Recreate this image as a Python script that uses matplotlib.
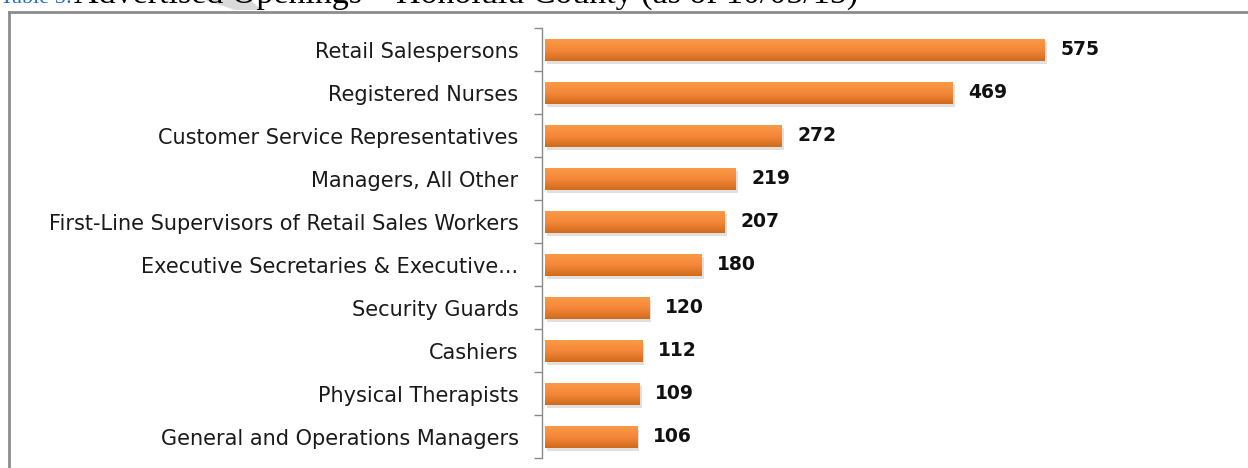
import matplotlib.pyplot as plt
import matplotlib.patheffects as pe
import numpy as np
from matplotlib.colors import LinearSegmentedColormap
from matplotlib.lines import Line2D
from matplotlib.patches import Polygon

occupations = [
    "Retail Salespersons",
    "Registered Nurses",
    "Customer Service Representatives",
    "Managers, All Other",
    "First-Line Supervisors of Retail Sales Workers",
    "Executive Secretaries & Executive...",
    "Security Guards",
    "Cashiers",
    "Physical Therapists",
    "General and Operations Managers",
]
openings = [575, 469, 272, 219, 207, 180, 120, 112, 109, 106]

W, H = 1248, 468
fig = plt.figure(figsize=(W / 100, H / 100), dpi=100)

# axes placed in pixel terms
ax = fig.add_axes([545 / W, 9.5 / H, 703 / W, 430 / H])
ypos = np.arange(len(occupations))

bars = ax.barh(ypos, openings, height=0.5, color="#E8832C", zorder=2,
               path_effects=[pe.SimplePatchShadow(offset=(1.5, -2), shadow_rgbFace="#999999", alpha=0.3),
                             pe.Normal()])

# vertical gradient on each bar (light on top, darker below)
grad = LinearSegmentedColormap.from_list("bar", ["#D06B1A", "#F4873A", "#FA9A45"])
g = np.linspace(0, 1, 64).reshape(-1, 1)
for b, v, y in zip(bars, openings, ypos):
    im = ax.imshow(g, cmap=grad, aspect="auto", origin="lower",
                   extent=[0, v, y + 0.25, y - 0.25], zorder=3)
    im.set_clip_path(b)

for v, y in zip(openings, ypos):
    ax.text(v + 18, y, str(v), va="center", ha="left", fontsize=13.5,
            fontweight="bold", family="DejaVu Sans", color="#111111")

ax.set_xlim(0, 808.5)
ax.set_ylim(len(occupations) - 0.5, -0.5)

for s in ["top", "right", "bottom"]:
    ax.spines[s].set_visible(False)
ax.spines["left"].set_color("#8a8a8a")
ax.spines["left"].set_linewidth(1.0)
ax.spines["left"].set_position(("outward", 2))
ax.set_xticks([])
ax.set_yticks(np.arange(-0.5, len(occupations), 1.0))
ax.set_yticklabels([])
ax.tick_params(axis="y", which="major", length=6, color="#8a8a8a", width=1.0)
ax.set_yticks(ypos, minor=True)
ax.set_yticklabels(occupations, minor=True, fontsize=15, family="DejaVu Sans", color="#1a1a1a")
ax.tick_params(axis="y", which="minor", length=0, pad=17)

# frame lines of the surrounding box
fig.add_artist(Line2D([8.5 / W, 8.5 / W], [0, 1 - 11.5 / H], color="#8c8c8c", lw=2))
fig.add_artist(Line2D([8.5 / W, 1], [1 - 11.5 / H, 1 - 11.5 / H], color="#8c8c8c", lw=2))

# faint gray shape behind the cut-off caption
fig.add_artist(Polygon([[205 / W, 1], [235 / W, 1 - 10 / H], [262 / W, 1 - 10 / H], [250 / W, 1]],
                       closed=True, color="#d9d9d9", lw=0, transform=fig.transFigure))

# cut-off caption at the top
fig.text(0, 1 - 3 / H, "Table 5:", color="#1F6EC0", fontsize=16,
         family="Liberation Serif", va="baseline")
fig.text(74 / W, 1 - 3 / H, "Advertised Openings – Honolulu County (as of 10/05/15)",
         color="black", fontsize=24.5, family="Liberation Serif", va="baseline")

fig.savefig("out.png", dpi=100)
